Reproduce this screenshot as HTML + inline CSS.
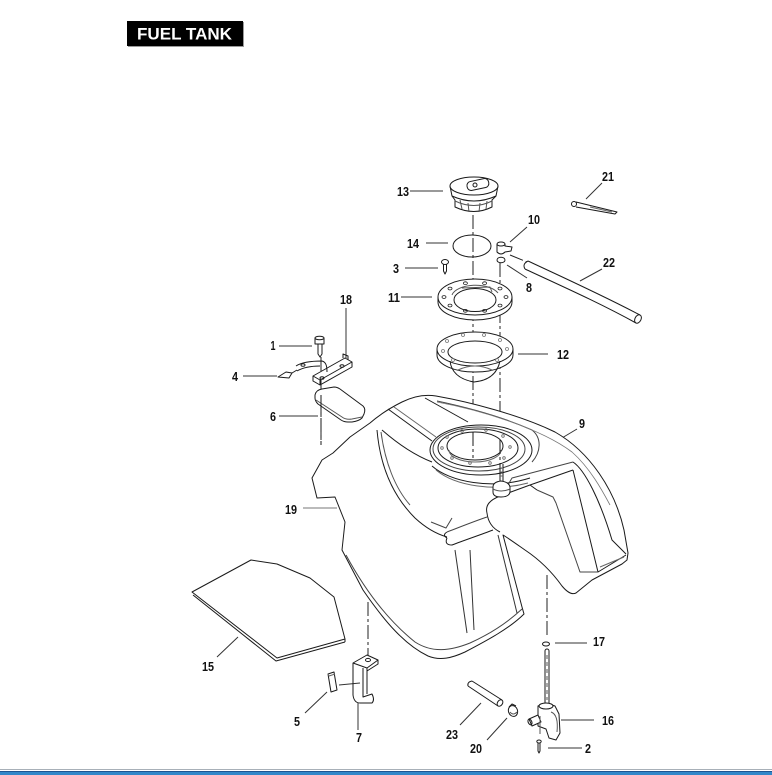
<!DOCTYPE html>
<html>
<head>
<meta charset="utf-8">
<style>
  html,body{margin:0;padding:0;background:#fff;}
  body{width:772px;height:775px;overflow:hidden;position:relative;}
  svg{position:absolute;left:0;top:0;}
  .lb{font-family:"Liberation Sans",Arial,sans-serif;font-weight:bold;font-size:13px;fill:#111;}
</style>
</head>
<body>
<svg width="772" height="775" viewBox="0 0 772 775" xmlns="http://www.w3.org/2000/svg">
  <!-- header -->
  <rect x="128" y="22" width="116" height="25" fill="#9a9a9a"/>
  <rect x="127" y="21" width="116" height="25" fill="#000"/>
  <text x="137" y="39.5" font-family="Liberation Sans, Arial, sans-serif" font-weight="bold" font-size="17" fill="#fff" textLength="95" lengthAdjust="spacingAndGlyphs">FUEL TANK</text>

  <!-- bottom bar -->
  <rect x="0" y="769" width="772" height="1" fill="#a8b0b8"/>
  <rect x="0" y="771" width="772" height="1" fill="#1d5592"/>
  <rect x="0" y="772" width="772" height="3" fill="#3187c9"/>

  <!-- dashed center lines -->
  <g stroke="#222" stroke-width="1" fill="none" stroke-dasharray="14 3 3 3">
    <line x1="473" y1="215" x2="473" y2="458"/>
    <line x1="500" y1="263" x2="500" y2="464"/>
    <line x1="510" y1="255" x2="527" y2="262"/>
    <line x1="321" y1="357" x2="321" y2="445"/>
    <line x1="368" y1="602" x2="368" y2="655"/>
    <line x1="547" y1="575" x2="547" y2="638"/>
  </g>

  <!-- leader lines -->
  <g stroke="#333" stroke-width="1" fill="none">
    <line x1="410" y1="191" x2="443" y2="191"/>
    <line x1="602" y1="183" x2="586" y2="199"/>
    <line x1="527" y1="227" x2="510" y2="242"/>
    <line x1="426" y1="243" x2="448" y2="243"/>
    <line x1="602" y1="269" x2="580" y2="281"/>
    <line x1="405" y1="268" x2="438" y2="268"/>
    <line x1="527" y1="278" x2="507" y2="265"/>
    <line x1="401" y1="297" x2="432" y2="297"/>
    <line x1="346" y1="308" x2="346" y2="358"/>
    <line x1="279" y1="346" x2="312" y2="346"/>
    <line x1="518" y1="354" x2="548" y2="354"/>
    <line x1="243" y1="376" x2="277" y2="376"/>
    <line x1="279" y1="416" x2="318" y2="416"/>
    <line x1="577" y1="429" x2="505" y2="472"/>
    <line x1="303" y1="508" x2="337" y2="508" stroke="#777"/>
    <line x1="555" y1="643" x2="587" y2="643"/>
    <line x1="217" y1="657" x2="238" y2="637"/>
    <line x1="561" y1="720" x2="594" y2="720"/>
    <line x1="305" y1="713" x2="327" y2="692"/>
    <line x1="358" y1="730" x2="358" y2="703"/>
    <line x1="460" y1="725" x2="481" y2="703"/>
    <line x1="487" y1="740" x2="507" y2="718"/>
    <line x1="548" y1="748" x2="582" y2="748"/>
    <line x1="339" y1="685" x2="360" y2="683"/>
  </g>

  <g stroke="#1a1a1a" stroke-width="1" fill="none" stroke-linejoin="round">
    <!-- cap 13 -->
    <path d="M450,186 L452,196 L455,200 L455,207 Q474,216 492,207 L492,200 L496,196 L498,186" fill="#fff"/>
    <ellipse cx="474" cy="186" rx="24" ry="9" fill="#fff"/>
    <path d="M452,196 Q474,206 496,196"/>
    <path d="M455,201 Q474,210 492,201" stroke="#555"/>
    <path d="M460,200 L462,209 M468,203 L469,212 M480,203 L479,212 M487,201 L486,209" stroke="#555"/>
    <rect x="467" y="180" width="22" height="9" rx="4" transform="rotate(-12 478 185)"/>
    <circle cx="475" cy="185" r="2"/>
    <!-- o-ring 14 -->
    <ellipse cx="472" cy="246" rx="19" ry="11"/>
    <!-- screw 3 -->
    <ellipse cx="445" cy="262" rx="3.5" ry="2.5"/>
    <path d="M443.5,264 L443.5,271 L445,274 L446.5,271 L446.5,264"/>
    <!-- elbow 10 -->
    <path d="M497,244 L497,252 Q501,256 505,252 L511,251 L512,247 L505,246 L505,244"/>
    <ellipse cx="501" cy="244" rx="4" ry="2"/>
    <!-- washer 8 -->
    <ellipse cx="501" cy="260" rx="4" ry="2.8"/>
    <!-- clip 21 -->
    <circle cx="574" cy="204" r="2.5"/>
    <path d="M576,202 L617,212 L615,214 L576,207"/>
    <path d="M590,207 L612,212" stroke="#666"/>
    <!-- hose 22 -->
    <path d="M528,261 C560,276 600,294 640,315"/>
    <path d="M525,269 C557,284 598,302 636,323"/>
    <path d="M528,261 Q522,264 525,269"/>
    <ellipse cx="638" cy="319" rx="3" ry="4.5" transform="rotate(28 638 319)"/>
    <!-- flange 11 -->
    <path d="M438,297 L438,302 A37,18 0 0 0 512,302 L512,297" fill="#fff"/>
    <ellipse cx="475" cy="297" rx="37" ry="18" fill="#fff"/>
    <ellipse cx="475" cy="300" rx="21" ry="11.5"/>
    <path d="M452,295 A24,12 0 0 1 498,293" stroke="#555"/>
    <path d="M462,288 L490,287 L492,292" stroke="#555"/>
    <g stroke-width="0.8">
      <ellipse cx="506" cy="297" rx="2" ry="1.4"/><ellipse cx="500" cy="305.5" rx="2" ry="1.4"/>
      <ellipse cx="484.6" cy="310.8" rx="2" ry="1.4"/><ellipse cx="465.4" cy="310.8" rx="2" ry="1.4"/>
      <ellipse cx="450" cy="305.5" rx="2" ry="1.4"/><ellipse cx="444" cy="297" rx="2" ry="1.4"/>
      <ellipse cx="450" cy="288.5" rx="2" ry="1.4"/><ellipse cx="465.4" cy="283.2" rx="2" ry="1.4"/>
      <ellipse cx="484.6" cy="283.2" rx="2" ry="1.4"/><ellipse cx="500" cy="288.5" rx="2" ry="1.4"/>
    </g>
    <!-- flange 12 -->
    <path d="M437,349 L437,355 A38,17 0 0 0 513,355 L513,349" fill="#fff"/>
    <ellipse cx="475" cy="349" rx="38" ry="17" fill="#fff"/>
    <path d="M450,361 Q452,378 474,382 Q496,380 500,361"/>
    <ellipse cx="475" cy="352" rx="27" ry="11"/>
    <path d="M458,370 Q475,362 492,370" stroke="#666"/>
    <g stroke="#777" stroke-width="0.8">
      <circle cx="507" cy="349" r="1.5"/><circle cx="500" cy="340" r="1.5"/><circle cx="484" cy="335" r="1.5"/>
      <circle cx="463" cy="335" r="1.5"/><circle cx="447" cy="341" r="1.5"/><circle cx="443" cy="351" r="1.5"/>
      <circle cx="453" cy="360" r="1.5"/><circle cx="497" cy="360" r="1.5"/>
    </g>

    <!-- bolt 1 -->
    <path d="M315,338 L324,338 L324,344 L315,344 Z" fill="#fff"/>
    <ellipse cx="319.5" cy="338" rx="4.5" ry="1.8" fill="#fff"/>
    <path d="M318,344 L318,354 L320,357 L322,354 L322,344"/>
    <!-- bracket 18 -->
    <path d="M313,376 L345,358 L352,362 L320,380 Z" fill="#fff"/>
    <path d="M313,376 L313,381 L320,385 L352,367 L352,362"/>
    <path d="M320,380 L320,385"/>
    <path d="M343,358 L343,354 L348,356 L348,360"/>
    <ellipse cx="322" cy="378" rx="2" ry="1.3"/>
    <ellipse cx="342" cy="366" rx="2" ry="1.3"/>
    <path d="M296,366 C302,362 312,361 322,361 C326,362 327,366 327,372"/>
    <path d="M297,371 C304,367 312,366 320,366"/>
    <ellipse cx="303" cy="365" rx="2" ry="1.3"/>
    <!-- connector 4 -->
    <path d="M278,377 L286,372 L292,373 L289,378 Z"/>
    <path d="M292,373 L297,370"/>
    <!-- pad 6 -->
    <path d="M315,395 Q316,390 322,389 L334,387 Q337,387 340,389 L363,406 Q366,409 364,414 L362,418 Q359,421 352,422 L348,422 Q344,422 341,420 L318,404 Q315,401 315,398 Z" fill="#fff"/>
    <path d="M316,400 L342,417 Q346,420 352,419 L362,417" stroke="#555"/>
    <line x1="321" y1="395" x2="321" y2="445" stroke-dasharray="14 3 3 3"/>

    <!-- tank body -->
    <path d="M370,423 C378,416 390,408 402,402 C412,397 424,394 436,396 C470,402 520,415 555,432 C590,452 615,490 624,530 L628,553 L627,560 L622,564 L592,580 L576,593 C572,595 567,592 562,586 C552,572 540,560 525,550 C515,543 508,538 503,535 L522,607 L524,614 C510,628 488,640 465,652 C452,658 440,661 428,656 C405,645 385,622 363,590 L342,550 L345,522 L335,497 L317,498 L312,478 L322,460 L333,453 L350,437 Z" fill="#fff"/>
    <!-- lower left lip -->
    <path d="M346,555 C366,592 390,622 415,642 C432,653 450,651 470,643 C490,634 508,622 522,609" stroke="#444"/>
    <!-- top double edge -->
    <path d="M437,401 C470,408 505,418 532,430 C542,438 541,452 532,462" stroke="#444"/>
    <path d="M437,402 C480,410 540,428 572,452 C590,468 602,490 610,505" stroke="#777" stroke-width="0.8"/>
    <!-- ridge band -->
    <path d="M388,409 L432,441"/>
    <path d="M394,407 L436,437" stroke="#666"/>
    <path d="M425,398 L468,422"/>
    <!-- front face left curve -->
    <path d="M377,430 C380,465 392,495 415,518 C428,530 440,535 447,537"/>
    <path d="M381,432 C385,462 395,488 410,505" stroke="#555"/>
    <path d="M431,522 L446,528 L452,518" stroke="#444"/>
    <!-- top/front edge -->
    <path d="M382,430 C398,444 414,455 432,462"/>
    <path d="M432,466 C450,482 492,490 530,478" />
    <path d="M436,470 C455,486 495,492 528,483" stroke="#666"/>
    <!-- ring -->
    <ellipse cx="481" cy="450" rx="51" ry="25" fill="#fff"/>
    <ellipse cx="479" cy="449" rx="46" ry="22" stroke="#444"/>
    <ellipse cx="478" cy="448" rx="40" ry="19"/>
    <ellipse cx="475" cy="446" rx="28" ry="14"/>
    <path d="M449,450 A26,12 0 0 0 501,450" stroke="#666"/>
    <g stroke="#666" stroke-width="0.8">
      <circle cx="510" cy="447" r="1.3"/><circle cx="504" cy="458" r="1.3"/><circle cx="490" cy="463" r="1.3"/>
      <circle cx="470" cy="463" r="1.3"/><circle cx="452" cy="458" r="1.3"/><circle cx="442" cy="448" r="1.3"/>
      <circle cx="447" cy="437" r="1.3"/><circle cx="462" cy="431" r="1.3"/><circle cx="486" cy="430" r="1.3"/><circle cx="503" cy="436" r="1.3"/>
    </g>
    <line x1="473" y1="432" x2="473" y2="458" stroke-dasharray="14 3 3 3"/>
    <line x1="500" y1="440" x2="500" y2="464" stroke-dasharray="14 3 3 3"/>
    <!-- arm -->
    <path d="M487,513 C485,505 490,500 500,496 L530,485 L573,470" fill="none"/>
    <path d="M505,490 L512,478 L573,462" stroke="#444"/>
    <path d="M573,462 C585,470 600,500 612,540 L626,554"/>
    <path d="M573,470 L598,572 L626,555"/>
    <path d="M537,490 L553,497 L556,503 L580,572 L598,572" stroke="#444"/>
    <path d="M530,485 L537,490"/>
    <path d="M600,567 L624,557" stroke="#666"/>
    <path d="M487,513 C488,522 492,528 500,532"/>
    <!-- lower wing -->
    <path d="M447,532 C460,527 475,521 487,517" stroke="#444"/>
    <path d="M447,538 Q444,545 452,545 C465,540 480,535 493,530" />
    <path d="M447,532 Q442,535 447,538"/>
    <!-- front face vertical lines -->
    <path d="M455,550 L467,633" stroke="#333"/>
    <path d="M470,550 L474,630" stroke="#333"/>
    <path d="M498,535 L517,613" stroke="#333"/>
    <!-- bolt 9 -->
    <path d="M500,464 L500,483 M503,464 L503,483"/>
    <path d="M500,468 L503,468 M500,472 L503,472 M500,476 L503,476" stroke="#666"/>
    <path d="M493,487 Q493,482 501,481 Q509,482 510,487 L510,492 Q509,497 501,497 Q493,497 493,492 Z" fill="#fff"/>
    <path d="M493,489 Q501,493 510,489" stroke="#555"/>

    <!-- panel 15 -->
    <path d="M192,592 L251,560 L277,564 L310,578 L334,597 L345,639 L277,658 Z" fill="#fff"/>
    <path d="M193,595 L276,661 L345,642" />
    <path d="M345,639 L345,642"/>

    <!-- bracket 7 -->
    <path d="M353,663 L367,655 L378,660 L367,668 Z" fill="#fff"/>
    <ellipse cx="368" cy="660" rx="2.5" ry="1.6"/>
    <path d="M353,663 L353,695 Q354,703 360,703 L372,703 Q375,700 372,694 L366,696 L363,697 L363,668"/>
    <path d="M367,668 L367,694"/>
    <path d="M378,660 L378,664 L367,671"/>
    <!-- pad 5 -->
    <path d="M328,674 L334,672 L337,690 L331,692 Z" fill="#fff"/>
    <path d="M328,674 L329,676 L335,674" stroke="#666"/>

    <!-- washer 17 -->
    <ellipse cx="546" cy="644" rx="3.5" ry="2"/>
    <!-- valve 16 -->
    <rect x="545" y="649" width="4" height="56" rx="2" fill="#fff"/>
    <line x1="547" y1="655" x2="547" y2="700" stroke="#555" stroke-dasharray="4 3"/>
    <path d="M538,706 L546,703 L555,706 L559,714 L560,733 L556,740 L549,738 L546,729 L538,726 Z" fill="#fff"/>
    <ellipse cx="546" cy="706" rx="7" ry="3" fill="#fff"/>
    <path d="M551,712 C557,714 558,722 557,732" stroke="#555"/>
    <path d="M529,719 L538,715 L541,722 L532,726 Z" fill="#fff"/>
    <ellipse cx="530" cy="722" rx="1.8" ry="3" transform="rotate(-25 530 722)"/>
    <path d="M540,716 L540,734" stroke="#555"/>
    <!-- screw 2 -->
    <ellipse cx="539" cy="741.5" rx="2.2" ry="1.5"/>
    <path d="M538,743 L538,751 L539,753 L540,751 L540,743"/>
    <!-- hose 23 -->
    <path d="M472,681 L502,700"/>
    <path d="M468,686 L498,706"/>
    <path d="M472,681 Q467,682 468,686"/>
    <ellipse cx="500" cy="703" rx="2.5" ry="3.5" transform="rotate(35 500 703)"/>
    <!-- clamp 20 -->
    <ellipse cx="513" cy="711" rx="4.5" ry="5.5" transform="rotate(-20 513 711)"/>
    <path d="M509,707 L512,704 L516,706" />
    <path d="M510,712 Q513,716 517,712" stroke="#555"/>
  </g>

  <!-- labels -->
  <g class="lb" text-anchor="middle">
    <text x="403" y="196" textLength="12" lengthAdjust="spacingAndGlyphs">13</text>
    <text x="608" y="181" textLength="12" lengthAdjust="spacingAndGlyphs">21</text>
    <text x="534" y="224" textLength="12" lengthAdjust="spacingAndGlyphs">10</text>
    <text x="413" y="248" textLength="12" lengthAdjust="spacingAndGlyphs">14</text>
    <text x="609" y="267" textLength="12" lengthAdjust="spacingAndGlyphs">22</text>
    <text x="396" y="273" textLength="6" lengthAdjust="spacingAndGlyphs">3</text>
    <text x="529" y="292" textLength="6" lengthAdjust="spacingAndGlyphs">8</text>
    <text x="394" y="302" textLength="12" lengthAdjust="spacingAndGlyphs">11</text>
    <text x="346" y="304" textLength="12" lengthAdjust="spacingAndGlyphs">18</text>
    <text x="273" y="350" textLength="5" lengthAdjust="spacingAndGlyphs">1</text>
    <text x="563" y="359" textLength="12" lengthAdjust="spacingAndGlyphs">12</text>
    <text x="235" y="381" textLength="6" lengthAdjust="spacingAndGlyphs">4</text>
    <text x="273" y="421" textLength="6" lengthAdjust="spacingAndGlyphs">6</text>
    <text x="582" y="428" textLength="6" lengthAdjust="spacingAndGlyphs">9</text>
    <text x="291" y="514" textLength="12" lengthAdjust="spacingAndGlyphs">19</text>
    <text x="599" y="646" textLength="12" lengthAdjust="spacingAndGlyphs">17</text>
    <text x="208" y="671" textLength="12" lengthAdjust="spacingAndGlyphs">15</text>
    <text x="608" y="725" textLength="12" lengthAdjust="spacingAndGlyphs">16</text>
    <text x="297" y="726" textLength="6" lengthAdjust="spacingAndGlyphs">5</text>
    <text x="359" y="742" textLength="6" lengthAdjust="spacingAndGlyphs">7</text>
    <text x="452" y="739" textLength="12" lengthAdjust="spacingAndGlyphs">23</text>
    <text x="476" y="753" textLength="12" lengthAdjust="spacingAndGlyphs">20</text>
    <text x="588" y="753" textLength="6" lengthAdjust="spacingAndGlyphs">2</text>
  </g>
</svg>
</body>
</html>
